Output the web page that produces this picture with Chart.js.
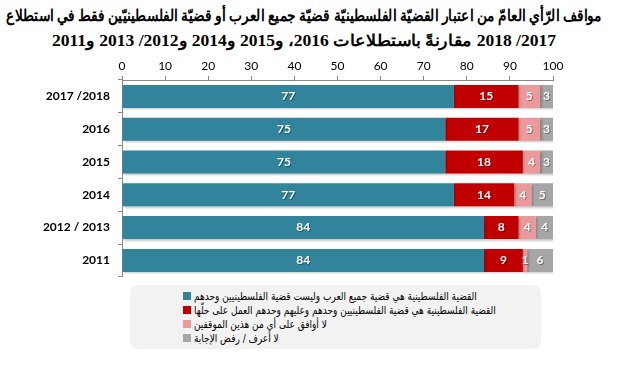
<!DOCTYPE html>
<html lang="ar">
<head>
<meta charset="utf-8">
<script src="https://cdn.jsdelivr.net/npm/chart.js@4/dist/chart.umd.min.js"></script>
<style>
  html, body { margin: 0; padding: 0; background: #fff; }
  #page { position: relative; width: 619px; height: 372px; overflow: hidden; }
  .t-line {
    position: absolute; white-space: nowrap; direction: rtl; unicode-bidi: isolate;
    font: bold 16px "Liberation Serif", "DejaVu Serif", serif; color: #000;
    transform-origin: 0 50%; line-height: 20px;
  }
  #chart-wrap { position: absolute; top: 52px; left: 0; width: 619px; height: 240px; }
  #legend {
    position: absolute; left: 130px; top: 285px; width: 411px; height: 64px;
    background: #f2f2f2; border-radius: 8px;
    font: 11px "DejaVu Sans", "Liberation Sans", sans-serif; color: #000;
  }
  .lg-row { position: absolute; left: 53px; height: 14px; display: flex; align-items: center; }
  .lg-box { width: 8px; height: 8px; margin-right: 3px; flex: none; }
  .lg-text { direction: rtl; unicode-bidi: isolate; white-space: nowrap; display: inline-block; transform-origin: 0 50%; }
</style>
</head>
<body>
<div id="page">
  <div id="chart-wrap"><canvas id="c"></canvas></div>
  <div id="legend"></div>
</div>
<script>
const titleLines = [
  'مواقف الرّأي العامّ من اعتبار القضيّة الفلسطينيّة قضيّة جميع العرب أو قضيّة الفلسطينيّين فقط في استطلاع',
  '2017/ 2018 مقارنةً باستطلاعات 2016، و2015 و2014 و2012/ 2013 و2011',
];

// survey rounds, top to bottom
const categories = ['2017 /2018', '2016', '2015', '2014', '2012 / 2013', '2011'];

// percentages per answer
const allArabs   = [77, 75, 75, 77, 84, 84];
const onlyPal    = [15, 17, 18, 14, 8, 9];
const neither    = [5, 5, 4, 4, 4, 1];
const dontKnow   = [3, 3, 3, 5, 4, 6];

const seriesLabels = [
  'القضية الفلسطينية هي قضية جميع العرب وليست قضية الفلسطينيين وحدهم',
  'القضية الفلسطينية هي قضية الفلسطينيين وحدهم وعليهم وحدهم العمل على حلّها',
  'لا أوافق على أي من هذين الموقفين',
  'لا أعرف /  رفض الإجابة',
];
const seriesColors = ['#31849b', '#c00000', '#eb9a9b', '#a6a6a6'];

const xTicks = [0, 10, 20, 30, 40, 50, 60, 70, 80, 90, 100];

// title: two fixed lines squeezed to the reference widths
const page = document.getElementById('page');
const titleBoxes = [[6, 6, 596], [31, 52, 504]]; // top, left, width
titleLines.forEach((txt, i) => {
  const el = document.createElement('div');
  el.className = 't-line';
  el.textContent = txt;
  page.appendChild(el);
  const [top, left, width] = titleBoxes[i];
  el.style.top = top + 'px';
  el.style.left = left + 'px';
  el.style.transform = 'scaleX(' + (width / el.offsetWidth) + ')';
});

// white numbers centred in every segment
const segmentLabels = {
  id: 'segmentLabels',
  afterDatasetsDraw(chart) {
    const { ctx } = chart;
    ctx.save();
    ctx.font = 'bold 12px Lato, "Liberation Sans", sans-serif';
    ctx.textAlign = 'center';
    ctx.textBaseline = 'middle';
    chart.data.datasets.forEach((ds, di) => {
      chart.getDatasetMeta(di).data.forEach((bar, i) => {
        const v = ds.data[i];
        const cx = (bar.x + bar.base) / 2;
        ctx.fillStyle = 'rgba(0,0,0,0.35)';
        ctx.fillText(String(v), cx + 1, bar.y + 1);
        ctx.fillStyle = '#fff';
        ctx.fillText(String(v), cx, bar.y);
      });
    });
    ctx.restore();
  },
};

// soft drop shadow under the bars
const barShadow = {
  id: 'barShadow',
  beforeDatasetsDraw(chart) {
    const { ctx } = chart;
    ctx.save();
    ctx.shadowColor = 'rgba(0,0,0,0.22)';
    ctx.shadowBlur = 2;
    ctx.shadowOffsetX = 1.5;
    ctx.shadowOffsetY = 1.5;
  },
  afterDatasetsDraw(chart) {
    chart.ctx.restore();
  },
};

new Chart(document.getElementById('c'), {
  type: 'bar',
  data: {
    labels: categories,
    datasets: [allArabs, onlyPal, neither, dontKnow].map((d, i) => ({
      label: seriesLabels[i],
      data: d,
      backgroundColor: seriesColors[i],
      borderWidth: 0,
      barPercentage: 0.7,
      categoryPercentage: 1,
    })),
  },
  options: {
    indexAxis: 'y',
    responsive: true,
    maintainAspectRatio: false,
    animation: false,
    layout: { padding: { left: 0, right: 66, top: 0, bottom: 2 } },
    plugins: {
      legend: { display: false },
      tooltip: { enabled: false },
    },
    scales: {
      x: {
        position: 'top',
        stacked: true,
        min: 0,
        max: 100,
        afterBuildTicks: (s) => { s.ticks = xTicks.map((v) => ({ value: v })); },
        afterFit: (s) => { s.height = 28; },
        ticks: {
          color: '#000',
          font: { family: 'Lato, "Liberation Sans", sans-serif', size: 12 },
          padding: 3,
        },
        grid: { drawOnChartArea: false, tickLength: 4, color: '#888' },
        border: { color: '#888' },
      },
      y: {
        stacked: true,
        afterFit: (s) => { s.width = 122; },
        ticks: {
          color: '#000',
          font: { family: 'Lato, "Liberation Sans", sans-serif', size: 12, weight: 'bold' },
          padding: 8,
        },
        grid: { drawOnChartArea: false, offset: true, tickLength: 4, color: '#888' },
        border: { color: '#888' },
      },
    },
  },
  plugins: [barShadow, segmentLabels],
});

// legend box, texts squeezed like the reference
const legend = document.getElementById('legend');
const lgTexts = [];
seriesLabels.forEach((txt, i) => {
  const row = document.createElement('div');
  row.className = 'lg-row';
  row.style.top = (4 + i * 14) + 'px';
  row.innerHTML = '<span class="lg-box" style="background:' + seriesColors[i] + '"></span>' +
    '<span class="lg-text">' + txt + '</span>';
  legend.appendChild(row);
  lgTexts.push(row.lastChild);
});
const k = 283 / lgTexts[0].offsetWidth;
lgTexts.forEach((el) => { el.style.transform = 'scaleX(' + k + ')'; });
</script>
</body>
</html>
